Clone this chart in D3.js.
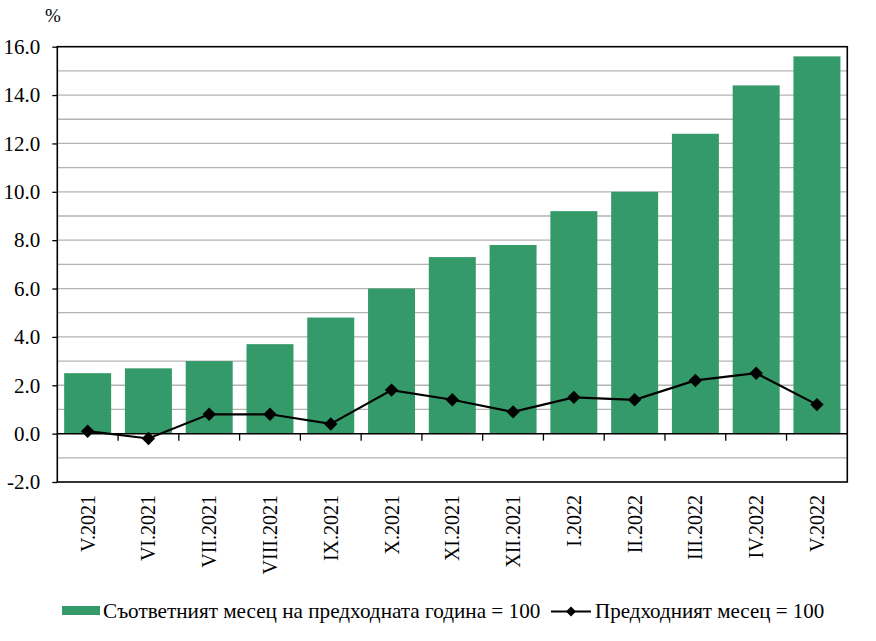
<!DOCTYPE html>
<html><head><meta charset="utf-8">
<script src="https://cdn.jsdelivr.net/npm/d3@7"></script>
<style>body{margin:0;background:#fff}svg{display:block}svg text{font-family:"Liberation Serif","Times New Roman",serif !important;fill:#000}</style>
</head><body>
<svg id="c" width="876" height="641"></svg>
<script>
const categories = ["V.2021","VI.2021","VII.2021","VIII.2021","IX.2021","X.2021","XI.2021","XII.2021","I.2022","II.2022","III.2022","IV.2022","V.2022"];
const yearOnYear = [2.5,2.7,3.0,3.7,4.8,6.0,7.3,7.8,9.2,10.0,12.4,14.4,15.6];
const monthOnMonth = [0.1,-0.2,0.8,0.8,0.4,1.8,1.4,0.9,1.5,1.4,2.2,2.5,1.2];
const yTicks = [-2,0,2,4,6,8,10,12,14,16];
const yMinor = [-1,1,3,5,7,9,11,13,15];
const seriesNames = ["Съответният месец на предходната година = 100","Предходният месец = 100"];

const svg = d3.select("#c");
const L=57.3, R=847.3, T=46.7, B=482;
const x = d3.scaleBand().domain(categories).range([L,R]).paddingInner(0.227).paddingOuter(0.113);
const xb = d3.scaleBand().domain(categories).range([L,R]);
const y = d3.scaleLinear().domain([-2,16]).range([B,T]);
const green = "#359a69";
const fmt = d => d.toFixed(1);

// gridlines
svg.append("g").selectAll("line").data(yMinor.concat(yTicks.filter(v=>v!==-2&&v!==16&&v!==0)))
 .join("line").attr("x1",L).attr("x2",R).attr("y1",d=>y(d)).attr("y2",d=>y(d))
 .attr("stroke","#b3b3b3").attr("stroke-width",1.3);

// bars
svg.append("g").selectAll("rect").data(categories).join("rect")
 .attr("x",d=>x(d)).attr("width",x.bandwidth())
 .attr("y",(d,i)=>y(Math.max(0,yearOnYear[i])))
 .attr("height",(d,i)=>Math.abs(y(yearOnYear[i])-y(0)))
 .attr("fill",green);

// zero axis
const xAxis = d3.axisBottom(xb).tickSize(7).tickFormat("");
const gx = svg.append("g").attr("transform",`translate(0,${y(0)})`).call(xAxis);
gx.select(".domain").remove();
gx.selectAll(".tick").attr("transform",d=>`translate(${xb(d)},0)`);
gx.selectAll(".tick").filter((d,i)=>i===0).remove();
gx.selectAll(".tick line").attr("stroke","#000").attr("stroke-width",1.3);
svg.append("line").attr("x1",L).attr("x2",R).attr("y1",y(0)).attr("y2",y(0)).attr("stroke","#000").attr("stroke-width",1.5);

// frame
svg.append("rect").attr("x",L).attr("y",T).attr("width",R-L).attr("height",B-T)
 .attr("fill","none").attr("stroke","#000").attr("stroke-width",1.6);

// y axis
const yAxis = d3.axisLeft(y).tickValues(yTicks).tickSize(5).tickPadding(12).tickFormat(fmt);
const gy = svg.append("g").attr("transform",`translate(${L},0)`).call(yAxis);
gy.attr("font-family",null).attr("font-size",null);
gy.select(".domain").remove();
gy.selectAll(".tick line").attr("stroke","#000").attr("stroke-width",1.3);
gy.selectAll(".tick text").style("font-size","21px").attr("fill","#000");

// x labels
svg.append("g").selectAll("text").data(categories).join("text")
 .attr("transform",d=>`translate(${x(d)+x.bandwidth()/2+7},495) rotate(-90)`)
 .attr("text-anchor","end").style("font-size","20px").text(d=>d);

// line
const cx = d=>x(d)+x.bandwidth()/2;
const line = d3.line().x((d,i)=>cx(categories[i])).y(d=>y(d));
svg.append("path").datum(monthOnMonth).attr("d",line).attr("fill","none").attr("stroke","#000").attr("stroke-width",2.2);
const diamond = d3.symbol().type(d3.symbolSquare).size(90);
svg.append("g").selectAll("path").data(monthOnMonth).join("path")
 .attr("d",diamond()).attr("transform",(d,i)=>`translate(${cx(categories[i])},${y(d)}) rotate(45)`).attr("fill","#000");

// % label
svg.append("text").attr("x",53).attr("y",22).attr("text-anchor","middle").style("font-size","19px").text("%");

// legend
const lg = svg.append("g");
lg.append("rect").attr("x",62).attr("y",606).attr("width",38).attr("height",9).attr("fill",green);
lg.append("text").attr("x",103).attr("y",618).style("font-size","21.2px").text(seriesNames[0]);
lg.append("line").attr("x1",551).attr("x2",591).attr("y1",611.5).attr("y2",611.5).attr("stroke","#000").attr("stroke-width",2.2);
lg.append("path").attr("d",d3.symbol().type(d3.symbolSquare).size(50)()).attr("transform","translate(571,611.5) rotate(45)").attr("fill","#000");
lg.append("text").attr("x",595).attr("y",618).style("font-size","21px").text(seriesNames[1]);
</script>
</body></html>
